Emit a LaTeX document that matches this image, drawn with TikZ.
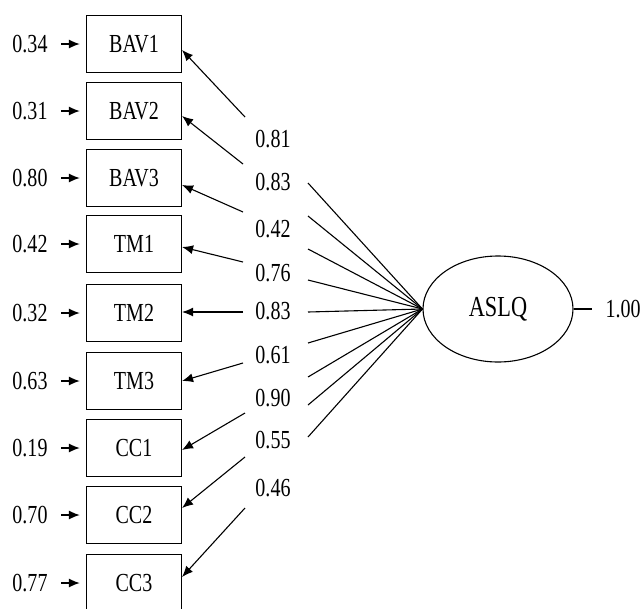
\documentclass[tikz,border=0pt]{standalone}
\usepackage{fontspec}
\setmainfont[FakeStretch=0.77]{Liberation Serif}
\usetikzlibrary{arrows.meta,shapes.geometric}

\begin{document}
\begin{tikzpicture}[x=1pt,y=-1pt,line width=1.1pt,
    >={Latex[length=11pt,width=9pt]},
    obsbox/.style={draw,minimum width=95pt,minimum height=57pt,
        font=\fontsize{26}{26}\selectfont},
    numlabel/.style={inner sep=0pt,font=\fontsize{26}{26}\selectfont}]
    \useasboundingbox (0,0) rectangle (642,608);
    % Draw the indicators and their error terms
    \foreach \name/\y/\err in {BAV1/44/0.34, BAV2/111/0.31, BAV3/178/0.80,
        TM1/244/0.42, TM2/313/0.32, TM3/381/0.63,
        CC1/448/0.19, CC2/515/0.70, CC3/583/0.77}{
        \node[obsbox] (\name) at (134,\y) {\name};
        \node[numlabel] (e\name) at (30,\y) {\err};
        \draw[->,line width=1.6pt,shorten <=13pt,shorten >=6pt] (e\name) -- (\name);
    }
    % Draw the latent factor
    \node[draw,ellipse,minimum width=150pt,minimum height=106pt,inner sep=0pt,
        font=\fontsize{29}{29}\selectfont] (ASLQ) at (498,309) {ASLQ};
    \node[numlabel,anchor=west] (var) at (605,309) {1.00};
    \draw[shorten >=13pt] (ASLQ) -- (var);
    % Loadings: label, arrow to the indicator, line from the factor
    \foreach \name/\val/\ly/\sx/\sy/\dy/\ey [count=\i] in {
        BAV1/0.81/139/245/117/-6/183,
        BAV2/0.83/182/243/164/-5/216,
        BAV3/0.42/229/243/212/-7/249,
        TM1/0.76/273/243/262/-3/280,
        TM2/0.83/311/243/312/1/312,
        TM3/0.61/355/243/363/0/343,
        CC1/0.90/398/245/413/-2/377,
        CC2/0.55/440/245/457/7/405,
        CC3/0.46/488/245/508/6/437}{
        \node[numlabel] (l\i) at (273,\ly) {\val};
        \coordinate (s\i) at (\sx,\sy);
        \coordinate (t\i) at (308,\ey);
        \draw[->] (s\i) -- ([yshift=\dy pt]\name.east);
        \draw (ASLQ.west) -- (t\i);
    }
\end{tikzpicture}
\end{document}
